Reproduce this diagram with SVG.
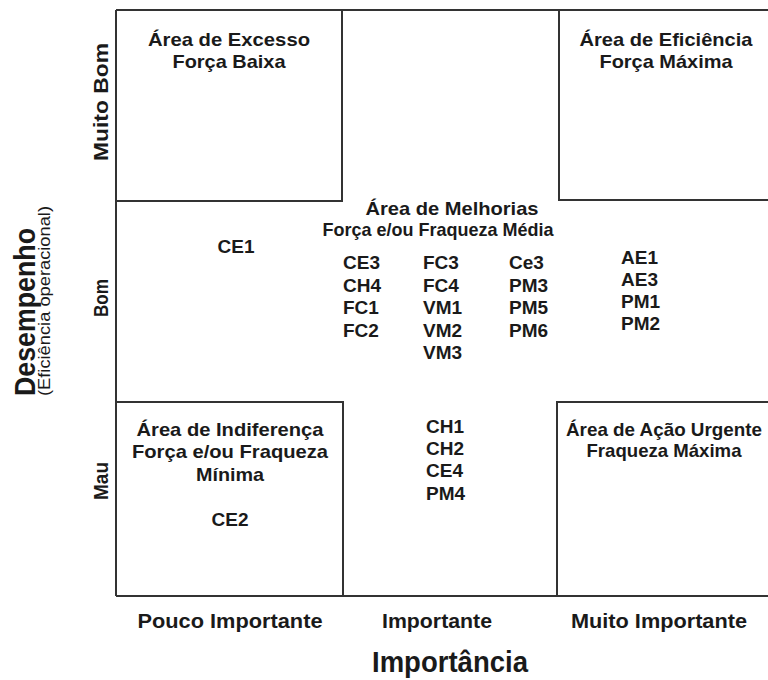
<svg xmlns="http://www.w3.org/2000/svg" width="768" height="680" viewBox="0 0 768 680">
<style>
.ln{stroke:#333;stroke-width:2;fill:none}
text{font-family:"Liberation Sans",Arial,Helvetica,sans-serif;fill:#1a1a1a}
.t{font-size:18.5px;font-weight:bold;text-anchor:middle}
.c{font-size:19px;font-weight:bold}
.cm{font-size:19px;font-weight:bold;text-anchor:middle}
.ax{font-size:20px;font-weight:bold;text-anchor:middle}
.big{font-size:30px;font-weight:bold;text-anchor:middle}
.sub{font-size:17px;text-anchor:middle}
</style>
<rect x="0" y="0" width="768" height="680" fill="#fff"/>
<g id="frame">
<path class="ln" d="M116 10 V596 M116 10 H768 M116 596 H768"/>
</g>
<g id="area-excesso">
<path class="ln" d="M342 10 V201 H116"/>
<text class="t" x="229" y="46" textLength="162" lengthAdjust="spacingAndGlyphs">Área de Excesso</text>
<text class="t" x="229" y="68" textLength="113" lengthAdjust="spacingAndGlyphs">Força Baixa</text>
</g>
<g id="area-eficiencia">
<path class="ln" d="M559 10 V200 H768"/>
<text class="t" x="666" y="46" textLength="173" lengthAdjust="spacingAndGlyphs">Área de Eficiência</text>
<text class="t" x="666" y="68" textLength="133" lengthAdjust="spacingAndGlyphs">Força Máxima</text>
</g>
<g id="area-indiferenca">
<path class="ln" d="M116 402 H343 V596"/>
<text class="t" x="230" y="436" textLength="187" lengthAdjust="spacingAndGlyphs">Área de Indiferença</text>
<text class="t" x="230" y="458" textLength="196" lengthAdjust="spacingAndGlyphs">Força e/ou Fraqueza</text>
<text class="t" x="230" y="481" textLength="68" lengthAdjust="spacingAndGlyphs">Mínima</text>
<text class="cm" x="230" y="526">CE2</text>
</g>
<g id="area-acao-urgente">
<path class="ln" d="M768 402 H557 V596"/>
<text class="t" x="664" y="436" textLength="196" lengthAdjust="spacingAndGlyphs">Área de Ação Urgente</text>
<text class="t" x="664" y="457" textLength="155" lengthAdjust="spacingAndGlyphs">Fraqueza Máxima</text>
</g>
<g id="area-melhorias">
<text class="t" x="452" y="215" textLength="173" lengthAdjust="spacingAndGlyphs">Área de Melhorias</text>
<text class="t" x="438" y="236" textLength="231" lengthAdjust="spacingAndGlyphs">Força e/ou Fraqueza Média</text>
<text class="c" x="343" y="269">CE3</text>
<text class="c" x="343" y="292">CH4</text>
<text class="c" x="343" y="314">FC1</text>
<text class="c" x="343" y="337">FC2</text>
<text class="c" x="423" y="269">FC3</text>
<text class="c" x="423" y="292">FC4</text>
<text class="c" x="423" y="314">VM1</text>
<text class="c" x="423" y="337">VM2</text>
<text class="c" x="423" y="359">VM3</text>
<text class="c" x="509" y="269">Ce3</text>
<text class="c" x="509" y="292">PM3</text>
<text class="c" x="509" y="314">PM5</text>
<text class="c" x="509" y="337">PM6</text>
</g>
<g id="bom-pouco-importante">
<text class="cm" x="236" y="253">CE1</text>
</g>
<g id="bom-muito-importante">
<text class="c" x="621" y="264">AE1</text>
<text class="c" x="621" y="286">AE3</text>
<text class="c" x="621" y="308">PM1</text>
<text class="c" x="621" y="330">PM2</text>
</g>
<g id="mau-importante">
<text class="c" x="426" y="433">CH1</text>
<text class="c" x="426" y="455">CH2</text>
<text class="c" x="426" y="477">CE4</text>
<text class="c" x="426" y="500">PM4</text>
</g>
<g id="eixo-importancia">
<text class="ax" x="230" y="628" textLength="185" lengthAdjust="spacingAndGlyphs">Pouco Importante</text>
<text class="ax" x="437" y="628" textLength="110" lengthAdjust="spacingAndGlyphs">Importante</text>
<text class="ax" x="659" y="628" textLength="176" lengthAdjust="spacingAndGlyphs">Muito Importante</text>
<text class="big" x="450" y="672" textLength="156" lengthAdjust="spacingAndGlyphs">Importância</text>
</g>
<g id="eixo-desempenho">
<text class="ax" transform="translate(108 102) rotate(-90)" textLength="118" lengthAdjust="spacingAndGlyphs">Muito Bom</text>
<text class="ax" transform="translate(108 298) rotate(-90)" textLength="38" lengthAdjust="spacingAndGlyphs">Bom</text>
<text class="ax" transform="translate(108 481) rotate(-90)" textLength="38" lengthAdjust="spacingAndGlyphs">Mau</text>
<text class="big" transform="translate(35 312) rotate(-90)" textLength="168" lengthAdjust="spacingAndGlyphs">Desempenho</text>
<text class="sub" transform="translate(50 301) rotate(-90)" textLength="190" lengthAdjust="spacingAndGlyphs">(Eficiência operacional)</text>
</g>
</svg>
